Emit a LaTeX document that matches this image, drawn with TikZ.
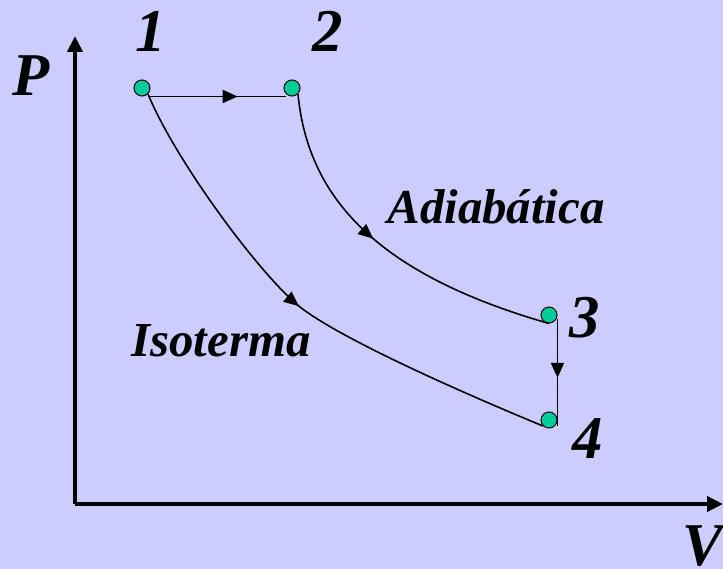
\documentclass[tikz,border=0pt]{standalone}
\usepackage{fontspec}
\setmainfont{Liberation Serif}
\usetikzlibrary{arrows.meta,decorations.markings}
\definecolor{fondo}{RGB}{204,204,255}
\definecolor{punto}{RGB}{0,204,153}
\begin{document}
\begin{tikzpicture}[
		x=1bp,y=-1bp,
		estado/.style={circle,draw,line width=1bp,fill=punto,minimum size=16bp,inner sep=0pt},
		eje/.style={line width=4.5bp,-{Triangle[length=16bp,width=15bp]}},
		proceso/.style={line width=1.6bp},
		flecha/.style={postaction={decorate},decoration={markings,
			mark=at position #1 with {\arrow{Triangle[length=15bp,width=13bp]}}}},
		numero/.style={font=\fontsize{61}{61}\selectfont\bfseries\itshape,inner sep=0pt},
		rotulo/.style={font=\fontsize{49}{49}\selectfont\bfseries\itshape,inner sep=0pt}
	]
		\fill[fondo] (0,0) rectangle (723,569);
		\useasboundingbox (0,0) rectangle (723,569);
		% ejes
		\coordinate (o) at (75,504);
		\coordinate (ptop) at (75,36);
		\coordinate (vend) at (723,504);
		\draw[eje] (o) -- (ptop);
		\draw[eje] (o) -- (vend);
		\node[numero] (lP) at (31,76) {P};
		\node[numero] (lV) at (703,546) {V};
		% estados
		\node[estado] (s1) at (142,88) {};
		\node[estado] (s2) at (292,88) {};
		\node[estado] (s3) at (549,315) {};
		\node[estado] (s4) at (549,420) {};
		\node[numero] (l1) at (151,31) {1};
		\node[numero] (l2) at (328,31) {2};
		\node[numero] (l3) at (585,318) {3};
		\node[numero] (l4) at (588,438) {4};
		% procesos
		\coordinate (miso) at (300,307);
		\draw[proceso,flecha=0.65] ([xshift=6bp]s1.south) -- ([xshift=-6bp]s2.south);
		\draw[proceso,flecha=0.46] (s2.south east) .. controls (308,200) and (380,275) .. (s3.south);
		\draw[proceso,flecha=0.55] ([yshift=-4bp]s3.east) -- ([yshift=-6bp]s4.east);
		\draw[proceso,flecha=0.49] (s1.south east) .. controls (175,160) and (260,275) .. (miso)
			.. controls (345,342) and (480,400) .. (s4.south west);
		\node[rotulo] (ladi) at (496,207) {Adiabática};
		\node[rotulo] (liso) at (221,341) {Isoterma};
\end{tikzpicture}
\end{document}
